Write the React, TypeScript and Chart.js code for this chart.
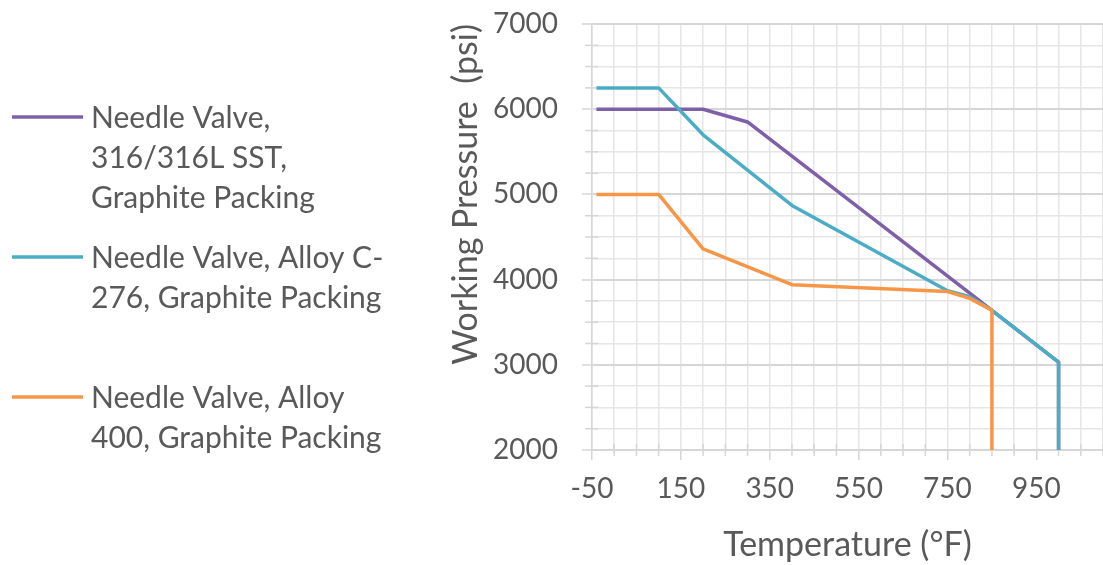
import React, { useEffect, useRef } from 'react';
import { Chart, registerables } from 'chart.js';

Chart.register(...registerables);

// ---- Data ----
const sstTemps = [-40, 100, 200, 300, 800, 850, 1000, 1000];
const sstPressures = [6000, 6000, 6000, 5850, 3840, 3640, 3030, 2000];

const c276Temps = [-40, 100, 200, 400, 750, 800, 850, 1000, 1000];
const c276Pressures = [6250, 6250, 5700, 4870, 3870, 3800, 3640, 3030, 2000];

const a400Temps = [-40, 100, 200, 400, 750, 800, 850, 850];
const a400Pressures = [5000, 5000, 4360, 3940, 3860, 3780, 3640, 2000];

const seriesLabels = [
  ['Needle Valve,', '316/316L SST,', 'Graphite Packing'],
  ['Needle Valve, Alloy C-', '276, Graphite Packing'],
  ['Needle Valve, Alloy', '400, Graphite Packing'],
];
const seriesColors = ['#7F60A8', '#4BACC6', '#F79646'];

const xMin = -50;
const xMax = 1100;
const xMinorStep = 50;
const xLabelStep = 200;
const yMin = 2000;
const yMax = 7000;
const yMinorStep = 250;
const yLabelStep = 1000;

const xTitle = 'Temperature (°F)';
const yTitle = 'Working Pressure  (psi)';

const FONT = 'Lato, "Open Sans", sans-serif';
const TEXT = '#595959';
const GRID_MINOR = '#E6E6E6';
const GRID_MAJOR = '#D6D6D6';

const toPoints = (xs: number[], ys: number[]) => xs.map((x, i) => ({ x, y: ys[i] }));

const isXMajor = (v: number) => Math.abs(((v - xMin) % xLabelStep + xLabelStep) % xLabelStep) < 1e-6;
const isYMajor = (v: number) => Math.abs(((v - yMin) % yLabelStep + yLabelStep) % yLabelStep) < 1e-6;

const minorTickPlugin = {
  id: 'minorTicks',
  beforeDatasetsDraw(chart: any) {
    const { ctx, chartArea, scales } = chart;
    ctx.save();
    ctx.strokeStyle = GRID_MAJOR;
    ctx.lineWidth = 1.5;
    scales.y.ticks.forEach((t: any) => {
      if (isYMajor(t.value)) return;
      const y = scales.y.getPixelForValue(t.value);
      ctx.beginPath();
      ctx.moveTo(chartArea.left - 7, y);
      ctx.lineTo(chartArea.left + 6, y);
      ctx.stroke();
    });
    scales.x.ticks.forEach((t: any) => {
      if (isXMajor(t.value)) return;
      const x = scales.x.getPixelForValue(t.value);
      ctx.beginPath();
      ctx.moveTo(x, chartArea.bottom - 6);
      ctx.lineTo(x, chartArea.bottom + 6);
      ctx.stroke();
    });
    ctx.restore();
  },
};

const sideLegendPlugin = {
  id: 'sideLegend',
  afterDraw(chart: any) {
    const { ctx } = chart;
    ctx.save();
    ctx.font = `30px ${FONT}`;
    ctx.textBaseline = 'middle';
    ctx.textAlign = 'left';
    chart.data.datasets.forEach((ds: any, i: number) => {
      const y0 = 117 + i * 140;
      ctx.strokeStyle = ds.borderColor;
      ctx.lineWidth = 3.5;
      ctx.beginPath();
      ctx.moveTo(12, y0);
      ctx.lineTo(83, y0);
      ctx.stroke();
      ctx.fillStyle = TEXT;
      (ds.labelLines as string[]).forEach((t, j) => ctx.fillText(t, 91, y0 + 1 + j * 40));
    });
    ctx.restore();
  },
};

export default function App() {
  const canvasRef = useRef<HTMLCanvasElement | null>(null);

  useEffect(() => {
    document.body.style.margin = '0';
    const canvas = canvasRef.current;
    if (!canvas) return;

    const series = [
      { t: sstTemps, p: sstPressures, order: 3 },
      { t: c276Temps, p: c276Pressures, order: 2 },
      { t: a400Temps, p: a400Pressures, order: 1 },
    ];

    const chart = new Chart(canvas, {
      type: 'line',
      data: {
        datasets: series.map((s, i) => ({
          label: seriesLabels[i].join(' '),
          labelLines: seriesLabels[i],
          data: toPoints(s.t, s.p),
          borderColor: seriesColors[i],
          backgroundColor: seriesColors[i],
          borderWidth: 3.5,
          pointRadius: 0,
          tension: 0,
          fill: false,
          order: s.order,
          borderCapStyle: 'butt',
          borderJoinStyle: 'round',
        })) as any,
      },
      options: {
        animation: false,
        responsive: false,
        maintainAspectRatio: false,
        layout: { padding: { left: 430, top: 24, right: 0, bottom: 0 } },
        plugins: {
          legend: { display: false },
          tooltip: { enabled: false },
        },
        scales: {
          x: {
            type: 'linear',
            min: xMin,
            max: xMax,
            afterFit: (s: any) => {
              s.height = 115;
              s.paddingLeft = 0;
              s.paddingRight = 0;
            },
            ticks: {
              stepSize: xMinorStep,
              autoSkip: false,
              maxRotation: 0,
              minRotation: 0,
              padding: 12,
              color: TEXT,
              font: { family: FONT, size: 28 },
              callback: (v: any) => (isXMajor(Number(v)) ? String(v) : ''),
            },
            grid: {
              color: GRID_MINOR,
              lineWidth: 1.5,
              tickLength: 10,
              tickWidth: 1.5,
              tickColor: (c: any) => (c.tick && isXMajor(c.tick.value) ? GRID_MAJOR : 'rgba(0,0,0,0)'),
            },
            border: { display: true, color: GRID_MAJOR, width: 1.5 },
            title: {
              display: true,
              text: xTitle,
              color: TEXT,
              font: { family: FONT, size: 34 },
              padding: { top: 0, bottom: 0 },
            },
          },
          y: {
            type: 'linear',
            min: yMin,
            max: yMax,
            afterFit: (s: any) => {
              s.width = 162;
              s.paddingTop = 0;
              s.paddingBottom = 0;
            },
            ticks: {
              stepSize: yMinorStep,
              autoSkip: false,
              padding: 24,
              color: TEXT,
              font: { family: FONT, size: 28 },
              callback: (v: any) => (isYMajor(Number(v)) ? String(v) : ''),
            },
            grid: {
              color: (c: any) => (c.tick && isYMajor(c.tick.value) ? GRID_MAJOR : GRID_MINOR),
              lineWidth: (c: any) => (c.tick && isYMajor(c.tick.value) ? 2 : 1.5),
              tickLength: 10,
              tickWidth: 1.5,
              tickColor: (c: any) => (c.tick && isYMajor(c.tick.value) ? GRID_MAJOR : 'rgba(0,0,0,0)'),
            },
            border: { display: true, color: GRID_MAJOR, width: 1.5 },
            title: {
              display: true,
              text: yTitle,
              align: 'end',
              color: TEXT,
              font: { family: FONT, size: 34 },
              padding: { top: 16, bottom: 0 },
            },
          },
        },
      } as any,
      plugins: [minorTickPlugin, sideLegendPlugin],
    });

    return () => {
      chart.destroy();
    };
  }, []);

  return (
    <div style={{ position: 'relative', width: 1103, height: 565 }}>
      <canvas ref={canvasRef} width={1103} height={565} style={{ display: 'block', width: 1103, height: 565 }} />
    </div>
  );
}
